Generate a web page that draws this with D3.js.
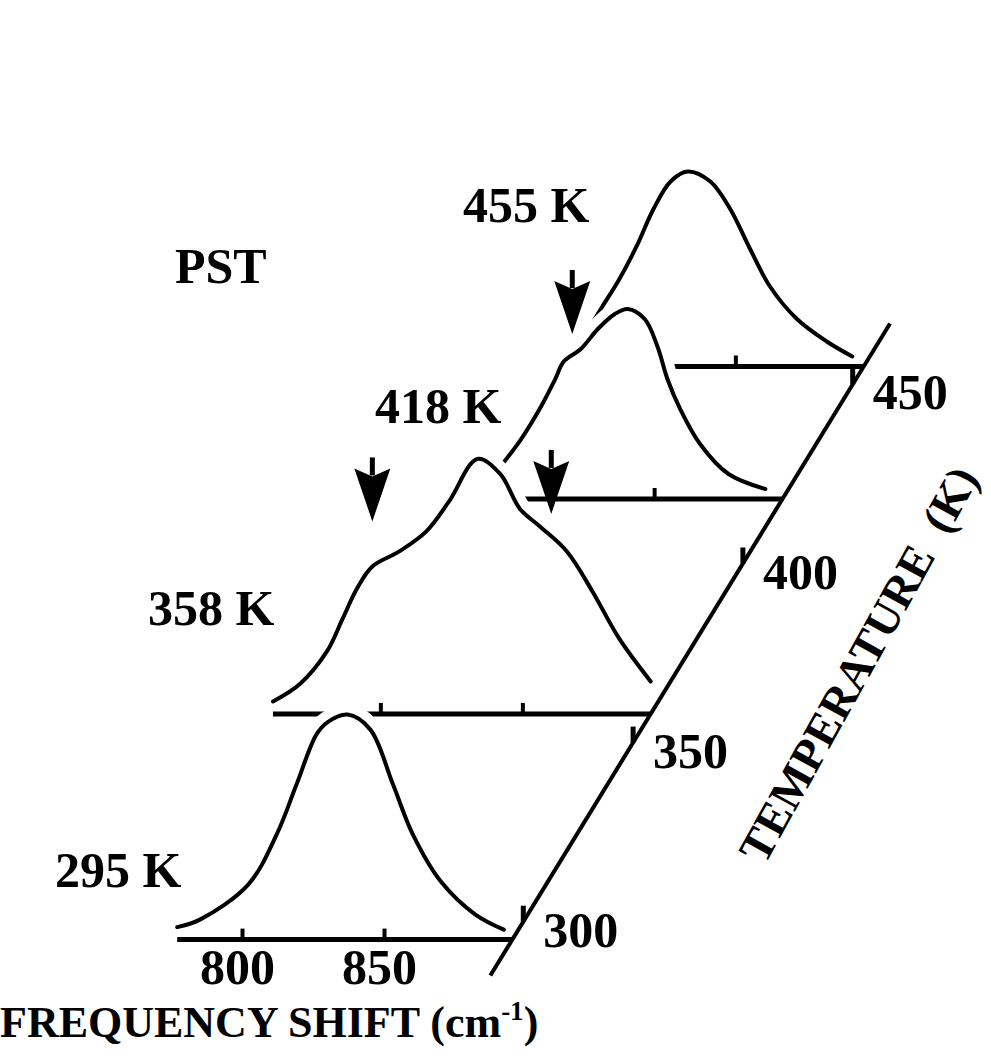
<!DOCTYPE html>
<html><head><meta charset="utf-8">
<script src="https://cdn.jsdelivr.net/npm/d3@7"></script>
<style>
html,body{margin:0;padding:0;background:#fff;}
svg text{font-family:"Liberation Serif","Times New Roman",serif;font-weight:bold;fill:#000;}
</style></head><body>
<svg id="chart" width="991" height="1058"></svg>
<script>
// ---- data (frequency cm^-1, relative intensity 0-100) ----
const temperatures = [295, 358, 418, 455];
const spectrum295 = [[777,5],[785,8],[802,22],[812,42],[819,62],[826,82],[830,87],[837,90],[845,84],[853,62],[860,42],[870,23],[882,10],[892,4]];
const spectrum358 = [[762,5],[771.5,12],[781,25],[786.5,38],[791.5,50],[797,59],[806.5,65],[816,73],[824,85],[834,102],[842,96],[849,82],[856,75],[865.5,65],[874.5,49],[884,30],[895,13]];
const spectrum418 = [[795,12],[803,24],[810,37],[815,48],[818,55],[824,60],[830,68],[836,74],[840.5,76],[846.5,72],[851,61],[854.5,48],[859,36],[866,22],[876,10],[889,4]];
const spectrum455 = [[797,13],[803,24],[809,35],[815,48],[821,63],[827,74],[833,78],[841,74],[848,63],[855,47],[862,32],[871.5,19],[882,10],[891,4]];
const spectra = [spectrum295, spectrum358, spectrum418, spectrum455];
const tempLabels = ["295 K", "358 K", "418 K", "455 K"];
const freqTicks = [800, 850];
const tempTicks = [300, 350, 400, 450];
const freqEnd = 895;
const tempAxisExtent = [285, 467];
const arrowTemps = [358, 358, 418];
const arrowFreqs = [797, 860, 821];
const arrowTips = [77, 80, 66];

// ---- scales ----
const svg = d3.select("#chart");
const tX = d3.scaleLinear().domain([300, 450]).range([253.5, 582.9]); // x of 800 cm-1 for a temperature
const tY = d3.scaleLinear().domain([300, 450]).range([921.7, 384.4]); // baseline y for a temperature
const fX = d3.scaleLinear().domain([800, 850]).range([0, 142]);
const iY = d3.scaleLinear().domain([0, 100]).range([0, -250]);

const line = d3.line().x(d => fX(d[0])).y(d => iY(d[1])).curve(d3.curveCatmullRom.alpha(0.5));
const area = d3.area().x(d => fX(d[0])).y0(0).y1(d => iY(d[1])).curve(d3.curveCatmullRom.alpha(0.5));

// draw back to front for hidden-line effect
const order = d3.range(temperatures.length).reverse();
order.forEach(i => {
  const T = temperatures[i], data = spectra[i];
  const g = svg.append("g").attr("transform", `translate(${tX(T)},${tY(T)})`);
  g.append("path").attr("d", area(data)).attr("fill", "#fff");
  g.append("path").attr("d", line(data)).attr("fill", "none").attr("stroke", "#fff").attr("stroke-width", 22);
  g.append("line").attr("x1", fX(data[0][0])).attr("x2", fX(freqEnd)).attr("y1", 0).attr("y2", 0)
    .attr("stroke", "#000").attr("stroke-width", 5);
  freqTicks.filter(t => t >= data[0][0]).forEach(t => {
    g.append("line").attr("x1", fX(t)).attr("x2", fX(t)).attr("y1", 0).attr("y2", -11)
      .attr("stroke", "#000").attr("stroke-width", 4);
  });
  g.append("path").attr("d", line(data)).attr("fill", "none").attr("stroke", "#000")
    .attr("stroke-width", 4).attr("stroke-linejoin", "round").attr("stroke-linecap", "round");
});

// arrows
arrowTemps.forEach((T, k) => {
  const x = tX(T) + fX(arrowFreqs[k]);
  const y = tY(T) + iY(arrowTips[k]);
  const g = svg.append("g").attr("transform", `translate(${x},${y})`);
  g.append("line").attr("x1", 0).attr("x2", 0).attr("y1", -46).attr("y2", -64)
    .attr("stroke", "#000").attr("stroke-width", 5);
  g.append("path").attr("d", "M0,0 L-18,-53 L0,-45 L18,-53 Z").attr("fill", "#000");
});

// temperature axis (diagonal)
const axPt = T => [tX(T) + fX(freqEnd), tY(T)];
const a0 = axPt(tempAxisExtent[0]), a1 = axPt(tempAxisExtent[1]);
svg.append("line").attr("x1", a0[0]).attr("y1", a0[1]).attr("x2", a1[0]).attr("y2", a1[1])
  .attr("stroke", "#000").attr("stroke-width", 4);
tempTicks.forEach(T => {
  const p = axPt(T);
  svg.append("line").attr("x1", p[0]).attr("x2", p[0]).attr("y1", p[1]).attr("y2", p[1] - 16)
    .attr("stroke", "#000").attr("stroke-width", 5);
  svg.append("text").attr("x", p[0] + 20).attr("y", p[1] + 25).attr("font-size", 50).text(T);
});

// frequency tick labels on front spectrum
freqTicks.forEach(f => {
  svg.append("text").attr("x", tX(temperatures[0]) + fX(f) - 5).attr("y", tY(temperatures[0]) + 44)
    .attr("text-anchor", "middle").attr("font-size", 50).text(f);
});

// spectrum labels
const labelPos = [[55, 887], [148, 625], [375, 423], [463, 222]];
tempLabels.forEach((s, i) => {
  svg.append("text").attr("x", labelPos[i][0]).attr("y", labelPos[i][1]).attr("font-size", 50).text(s);
});
svg.append("text").attr("x", 175).attr("y", 283).attr("font-size", 50).text("PST");

// axis titles
const ft = svg.append("text").attr("x", 0).attr("y", 1037).attr("font-size", 44);
ft.append("tspan").text("FREQUENCY SHIFT (cm");
ft.append("tspan").attr("font-size", 27).attr("dy", -17).text("-1");
ft.append("tspan").attr("dy", 17).text(")");

svg.append("text").attr("transform", "translate(872,672) rotate(-61)")
  .attr("text-anchor", "middle").attr("font-size", 46).text("TEMPERATURE\u00A0\u00A0(K)");
</script>
</body></html>
